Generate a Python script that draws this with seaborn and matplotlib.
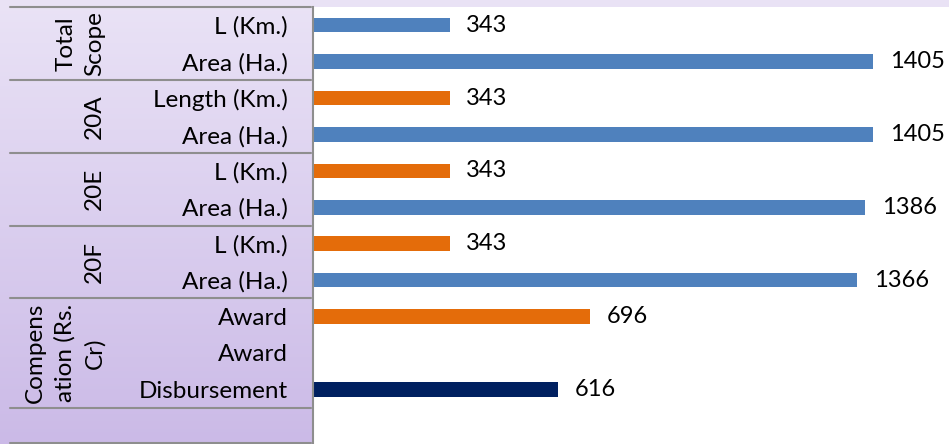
import numpy as np
import pandas as pd
import matplotlib.pyplot as plt
import seaborn as sns
from matplotlib.colors import LinearSegmentedColormap
from matplotlib.transforms import blended_transform_factory

# chart data
labels = ["L (Km.)", "Area (Ha.)", "Length (Km.)", "Area (Ha.)", "L (Km.)", "Area (Ha.)",
          "L (Km.)", "Area (Ha.)", "Award", "Award", "Disbursement"]
values = [343, 1405, 343, 1405, 343, 1386, 343, 1366, 696, None, 616]
kinds = ["area", "area", "length", "area", "length", "area", "length", "area", "length", "none", "paid"]
groups = ["Total\nScope", "20A", "20E", "20F", "Compens\nation (Rs.\nCr)"]
group_sizes = [2, 2, 2, 2, 3]

palette = {"area": "#4F81BD", "length": "#E46C0A", "paid": "#002060", "none": "#FFFFFF"}

sns.set_theme(style="white")
plt.rcParams["font.family"] = ["Lato", "DejaVu Sans"]

ids = [f"r{i}" for i in range(len(labels))]
df = pd.DataFrame({"row": ids, "value": values, "kind": kinds}).dropna()

fig = plt.figure(figsize=(9.49, 4.44), dpi=100)

# purple gradient background
bg = fig.add_axes([0, 0, 1, 1], zorder=0)
cmap = LinearSegmentedColormap.from_list("bg", ["#EAE3F6", "#CBBAE7"])
bg.imshow(np.linspace(0, 1, 256).reshape(-1, 1), aspect="auto", cmap=cmap, extent=[0, 1, 0, 1])
bg.axis("off")

ax = fig.add_axes([313 / 949, 0, 636 / 949, 437 / 444], zorder=1)
ax.set_facecolor("white")
sns.barplot(data=df, x="value", y="row", hue="kind", order=ids, palette=palette,
            dodge=False, width=0.4, orient="h", legend=False, ax=ax,
            saturation=1, linewidth=0)
for c in ax.containers:
    ax.bar_label(c, fmt="%d", padding=12, fontsize=17, color="black")

ax.set_xlim(0, 1596)
ax.set_ylim(len(labels) + 0.5, -0.5)
ax.set_xticks([])
ax.set_yticks(range(len(labels)), labels)
ax.tick_params(axis="y", length=0, pad=18, labelsize=17.5, labelcolor="black")
ax.set_xlabel("")
ax.set_ylabel("")
for s in ["top", "right", "bottom"]:
    ax.spines[s].set_visible(False)
ax.spines["left"].set_color("#8E8E8E")
ax.spines["left"].set_linewidth(1.5)

# group separators and labels in the left panel
tr = blended_transform_factory(fig.transFigure, ax.transData)
start = 0
bounds = [-0.5]
for name, n in zip(groups, group_sizes):
    mid = start + (n - 1) / 2
    ax.text(105 / 949, mid, name, transform=tr, rotation=90, ha="right", va="center",
            multialignment="center", fontsize=17.5, color="black", linespacing=1.45)
    start += n
    bounds.append(start - 0.5)
bounds.append(len(labels) + 0.47)
for b in bounds:
    ax.plot([10 / 949, 311 / 949], [b, b], transform=tr, color="#8E8E8E", lw=1.5, clip_on=False)

fig.savefig("out.png", dpi=100)
